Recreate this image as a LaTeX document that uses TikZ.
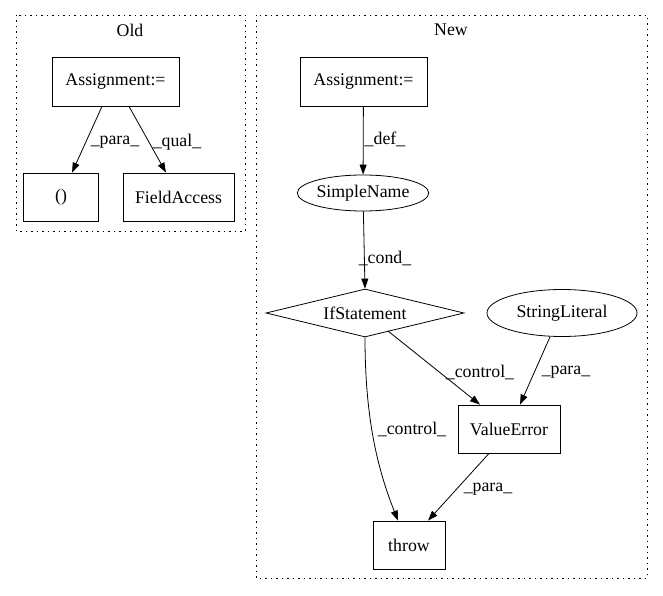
\documentclass[tikz,border=0pt]{standalone}
\usepackage{fontspec}
\setmainfont{Liberation Serif}
\usetikzlibrary{arrows.meta,shapes.geometric}
\begin{document}
\begin{tikzpicture}[x=1pt,y=-1pt,
  every node/.style={font=\fontsize{17.8}{20}\selectfont},
  box/.style={draw,thick,rectangle,inner sep=0pt},
  ell/.style={draw,thick,ellipse,inner sep=0pt},
  dia/.style={draw,thick,diamond,aspect=4.1,inner sep=0pt},
  cluster/.style={draw,thick,dash pattern=on 1.5pt off 4pt},
  edge/.style={draw,thick,-{Triangle[length=10pt,width=7pt]}},
  lab/.style={inner sep=1pt}]
\useasboundingbox (0,0) rectangle (663,596);
% clusters
\draw[cluster] (16,15) rectangle (245,231);
\node (oldt) at (130,30) {Old};
\draw[cluster] (256,15) rectangle (647,578);
\node (newt) at (451,30) {New};
% Old nodes
\node[box,minimum width=127pt,minimum height=49pt] (oa) at (115.5,81.5) {Assignment:=};
\node[box,minimum width=75pt,minimum height=48pt] (op) at (61,197) {()};
\node[box,minimum width=111pt,minimum height=48pt] (fa) at (178.5,197) {FieldAccess};
\draw[edge] (oa.south -| 102,0) -- (op.north -| 72,0);
\draw[edge] (oa.south -| 129,0) -- (fa.north -| 166,0);
\node[lab] (l1) at (115,142) {\_para\_};
\node[lab] (l2) at (177,142) {\_qual\_};
% New nodes
\node[box,minimum width=127pt,minimum height=49pt] (na) at (363.5,81.5) {Assignment:=};
\node[ell,minimum width=110pt,minimum height=36pt] (sn) at (363,193) {SimpleName};
\node[dia,minimum width=198pt,minimum height=48pt] (ifs) at (365,313) {IfStatement};
\node[ell,minimum width=150pt,minimum height=47pt] (sl) at (562,313) {StringLiteral};
\node[box,minimum width=102pt,minimum height=48pt] (ve) at (509,429) {ValueError};
\node[box,minimum width=72pt,minimum height=48pt] (th) at (409,545) {throw};
\draw[edge] (na) -- (sn);
\node[lab] (l3) at (385,139) {\_def\_};
\draw[edge] (sn) -- (ifs.north);
\node[lab] (l4) at (385,258) {\_cond\_};
\draw[edge] (388,331) -- (ve.north -| 480,0);
\node[lab] (l5) at (480,372) {\_control\_};
\draw[edge] (sl.south -| 550,0) -- (ve.north -| 520,0);
\node[lab] (l6) at (566,372) {\_para\_};
\draw[edge] (ifs.south) .. controls (365,420) and (378,470) .. (th.north -| 398,0);
\node[lab] (l7) at (412,429) {\_control\_};
\draw[edge] (ve.south -| 489,0) -- (th.north -| 428,0);
\node[lab] (l8) at (488,489) {\_para\_};
\end{tikzpicture}
\end{document}
